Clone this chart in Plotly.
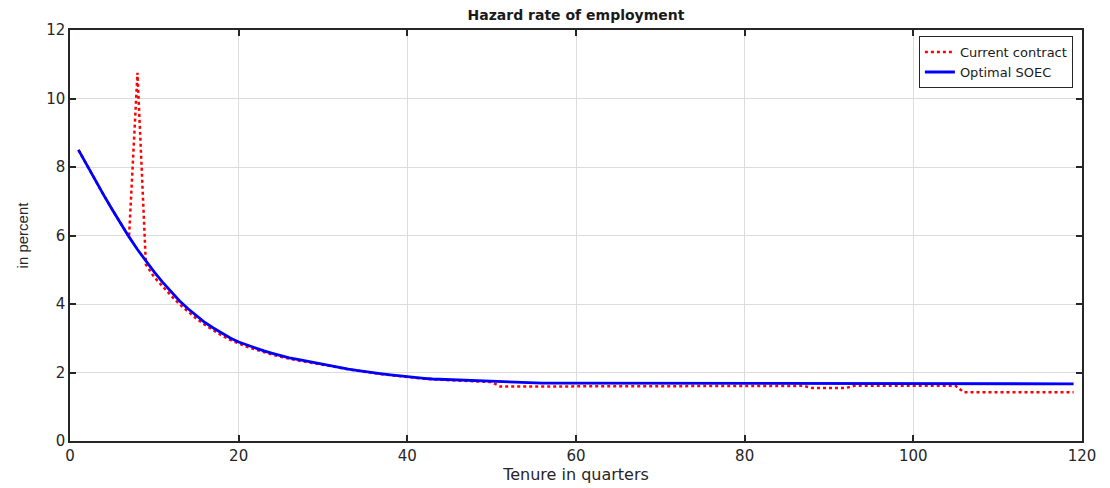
import plotly.graph_objects as go

quarters = list(range(1, 120))

optimal_soec = [
    8.50, 8.05, 7.61, 7.18, 6.76, 6.35, 5.96, 5.59, 5.25, 4.93,
    4.63, 4.35, 4.09, 3.86, 3.65, 3.46, 3.30, 3.15, 3.01, 2.89,
    2.80, 2.71, 2.63, 2.56, 2.49, 2.43, 2.38, 2.33, 2.29, 2.25,
    2.20, 2.15, 2.10, 2.06, 2.02, 1.99, 1.96, 1.93, 1.90, 1.87,
    1.85, 1.83, 1.81, 1.80, 1.78, 1.77, 1.76, 1.75, 1.74, 1.73,
    1.72, 1.71, 1.70, 1.70, 1.69, 1.69, 1.69, 1.69, 1.68, 1.68,
    1.68, 1.68, 1.68, 1.67, 1.67, 1.67, 1.67, 1.67, 1.67, 1.67,
    1.67, 1.67, 1.67, 1.67, 1.67, 1.67, 1.67, 1.67, 1.67, 1.67,
    1.67, 1.67, 1.67, 1.67, 1.67, 1.67, 1.67, 1.67, 1.67, 1.67,
    1.67, 1.67, 1.67, 1.67, 1.67, 1.67, 1.67, 1.67, 1.67, 1.67,
    1.67, 1.67, 1.67, 1.67, 1.67, 1.67, 1.67, 1.67, 1.67, 1.67,
    1.67, 1.67, 1.67, 1.67, 1.67, 1.67, 1.67, 1.67, 1.67,
]

current_contract = [
    8.50, 8.05, 7.61, 7.18, 6.76, 6.35, 5.96, 10.75, 5.15, 4.78,
    4.50, 4.24, 3.99, 3.77, 3.57, 3.39, 3.23, 3.08, 2.95, 2.84,
    2.75, 2.67, 2.59, 2.52, 2.46, 2.40, 2.35, 2.31, 2.27, 2.24,
    2.19, 2.14, 2.09, 2.05, 2.01, 1.98, 1.95, 1.92, 1.89, 1.86,
    1.84, 1.82, 1.80, 1.79, 1.77, 1.76, 1.75, 1.74, 1.73, 1.72,
    1.59, 1.59, 1.59, 1.59, 1.59, 1.59, 1.59, 1.59, 1.59, 1.59,
    1.59, 1.59, 1.59, 1.59, 1.61, 1.61, 1.61, 1.61, 1.61, 1.61,
    1.61, 1.61, 1.61, 1.61, 1.61, 1.61, 1.61, 1.61, 1.61, 1.61,
    1.61, 1.61, 1.61, 1.61, 1.61, 1.61, 1.61, 1.55, 1.55, 1.55,
    1.55, 1.55, 1.61, 1.61, 1.61, 1.61, 1.61, 1.61, 1.61, 1.61,
    1.61, 1.61, 1.61, 1.61, 1.61, 1.42, 1.42, 1.42, 1.42, 1.42,
    1.42, 1.42, 1.42, 1.42, 1.42, 1.42, 1.42, 1.42, 1.42,
]

x_ticks = [0, 20, 40, 60, 80, 100, 120]
y_ticks = [0, 2, 4, 6, 8, 10, 12]

fig = go.Figure()
fig.add_trace(go.Scatter(
    x=quarters, y=current_contract, mode="lines", name="Current contract",
    line=dict(color="#ff0000", width=2.5, dash="dot"),
))
fig.add_trace(go.Scatter(
    x=quarters, y=optimal_soec, mode="lines", name="Optimal SOEC",
    line=dict(color="#0000ff", width=2.8),
))

axis_common = dict(
    showline=True, linecolor="#262626", linewidth=1.5, mirror="ticks",
    ticks="inside", ticklen=6, tickwidth=1.5, tickcolor="#262626",
    showgrid=True, gridcolor="#dcdcdc", gridwidth=1, zeroline=False,
    tickfont=dict(family="DejaVu Sans", size=15, color="#262626"),
)

fig.update_layout(
    width=1110, height=488,
    margin=dict(l=62, r=36, t=22, b=55),
    paper_bgcolor="white", plot_bgcolor="white",
    title=dict(
        text="<b>Hazard rate of employment</b>",
        x=(62 + 1074) / 2 / 1110, xanchor="center",
        y=1 - 2 / 488, yanchor="top", yref="container",
        pad=dict(t=0, b=0, l=0, r=0),
        font=dict(family="DejaVu Sans", size=14, color="#1a1a1a"),
    ),
    xaxis=dict(
        range=[0, 120], tickvals=x_ticks, ticktext=[str(v) for v in x_ticks],
        title=dict(text="Tenure in quarters", standoff=4,
                   font=dict(family="DejaVu Sans", size=16, color="#262626")),
        **axis_common,
    ),
    yaxis=dict(
        range=[0, 12], tickvals=y_ticks, ticktext=[str(v) for v in y_ticks],
        title=dict(text="in percent", standoff=14,
                   font=dict(family="Liberation Sans Narrow, Liberation Sans", size=15, color="#262626")),
        **axis_common,
    ),
    legend=dict(
        x=0.991, xanchor="right", y=0.985, yanchor="top",
        bgcolor="white", bordercolor="#262626", borderwidth=1,
        font=dict(family="DejaVu Sans", size=13, color="#1a1a1a"),
        tracegroupgap=0,
    ),
    showlegend=True,
)

fig.write_html("out.html")
